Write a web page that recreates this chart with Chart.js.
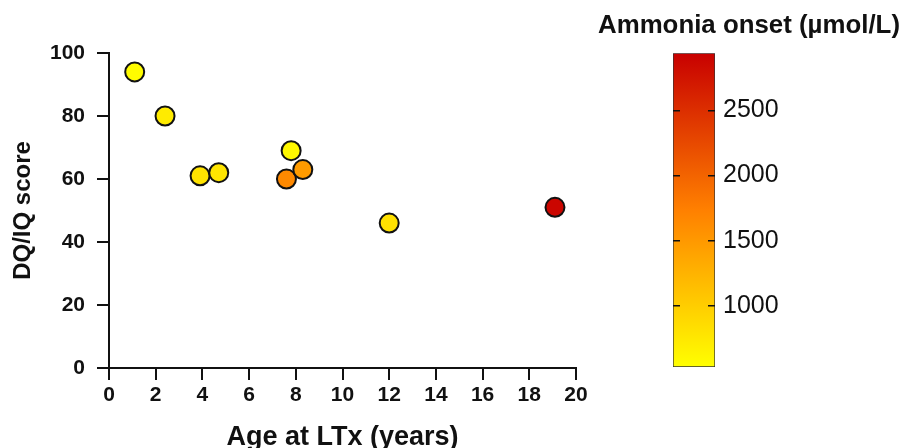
<!DOCTYPE html>
<html>
<head>
<meta charset="utf-8">
<script src="https://cdn.jsdelivr.net/npm/chart.js@4/dist/chart.umd.min.js"></script>
<style>
    html, body { margin: 0; padding: 0; background: #fff; overflow: hidden; }
    #wrap { position: relative; width: 902px; height: 448px; }
    #main { position: absolute; left: 0; top: 0; }
    #cbar { position: absolute; left: 598px; top: 0; }
</style>
</head>
<body>
<div id="wrap">
    <canvas id="main" width="620" height="448"></canvas>
    <canvas id="cbar" width="302" height="448"></canvas>
</div>
<script>
// values
var ageAtLTx = [1.1, 2.4, 3.9, 4.7, 7.8, 7.6, 8.3, 12.0, 19.1];
var dqIqScore = [94, 80, 61, 62, 69, 60, 63, 46, 51];
var ammoniaOnset = [560, 720, 800, 780, 600, 1650, 1480, 810, 2880];

var xTicks = [0, 20, 2];       // min, max, step
var yTicks = [0, 100, 20];
var cbRange = [530, 2940];
var cbTicks = [1000, 1500, 2000, 2500];

var INK = '#111';
Chart.defaults.font.family = '"Liberation Sans", Arial, sans-serif';
Chart.defaults.color = INK;

// yellow -> orange -> dark red
var stops = [[0, [255, 255, 0]], [0.5, [255, 128, 0]], [1, [200, 0, 0]]];

function colorAt(t) {
    t = Math.max(0, Math.min(1, t));
    for (var i = 1; i < stops.length; i++) {
        if (t <= stops[i][0]) {
            var a = stops[i - 1], b = stops[i];
            var f = (t - a[0]) / (b[0] - a[0]);
            var c = a[1].map(function(v, k) { return Math.round(v + (b[1][k] - v) * f); });
            return 'rgb(' + c.join(',') + ')';
        }
    }
    return 'rgb(' + stops[stops.length - 1][1].join(',') + ')';
}

function ammoniaColor(v) { return colorAt((v - cbRange[0]) / (cbRange[1] - cbRange[0])); }

function axisOpts(range, tickFont, title, titleFont, titlePad, fit) {
    return {
        type: 'linear', min: range[0], max: range[1],
        ticks: { stepSize: range[2], font: { size: tickFont, weight: 'bold' }, color: INK, padding: fit.pad },
        grid: { drawOnChartArea: false, tickLength: 12, color: INK, lineWidth: 2 },
        border: { color: INK, width: 2 },
        title: { display: true, text: title, color: INK, font: { size: titleFont, weight: 'bold' }, padding: titlePad },
        afterFit: fit.fn
    };
}

var points = ageAtLTx.map(function(x, i) { return { x: x, y: dqIqScore[i] }; });

new Chart(document.getElementById('main'), {
    type: 'scatter',
    data: { datasets: [{
        data: points,
        backgroundColor: ammoniaOnset.map(ammoniaColor),
        borderColor: INK, borderWidth: 2,
        pointRadius: 9.5, pointHoverRadius: 9.5
    }] },
    options: {
        responsive: false, animation: false,
        layout: { padding: { left: 9, top: 53, right: 44, bottom: 0 } },
        plugins: { legend: { display: false }, tooltip: { enabled: false } },
        scales: {
            x: axisOpts(xTicks, 21, 'Age at LTx (years)', 27, { top: 0, bottom: -6 },
                { pad: 3, fn: function(s) { s.height = 80; } }),
            y: axisOpts(yTicks, 21, 'DQ/IQ score', 24, { top: 0, bottom: 0 },
                { pad: 12, fn: function(s) { s.width = 100; } })
        }
    }
});

// colour bar: one floating bar spanning the ammonia range
new Chart(document.getElementById('cbar'), {
    type: 'bar',
    data: { labels: [''], datasets: [{
        data: [cbRange],
        yAxisID: 'y',
        backgroundColor: function(ctx) {
            var area = ctx.chart.chartArea;
            if (!area) return null;
            var g = ctx.chart.ctx.createLinearGradient(0, area.bottom, 0, area.top);
            stops.forEach(function(s) { g.addColorStop(s[0], colorAt(s[0])); });
            return g;
        },
        borderColor: '#333', borderWidth: 1, borderSkipped: false,
        barPercentage: 1, categoryPercentage: 1
    }] },
    options: {
        responsive: false, animation: false,
        layout: { padding: { left: 0, top: 0, right: 0, bottom: 81 } },
        plugins: {
            legend: { display: false }, tooltip: { enabled: false },
            title: { display: true, text: 'Ammonia onset (µmol/L)', color: INK,
                font: { size: 26, weight: 'bold' }, padding: { top: 10, bottom: 12 } }
        },
        scales: {
            x: { display: false },
            pad: { axis: 'y', position: 'left', display: true, min: 0, max: 1,
                ticks: { display: false }, grid: { display: false },
                border: { display: false }, afterFit: function(s) { s.width = 75; } },
            y: {
                position: 'right', min: cbRange[0], max: cbRange[1],
                afterBuildTicks: function(s) { s.ticks = cbTicks.map(function(v) { return { value: v }; }); },
                ticks: { font: { size: 25 }, color: INK, padding: 8,
                    callback: function(v) { return String(v); } },
                // short marks on both edges of the bar, drawn above it
                grid: { z: 1, drawOnChartArea: true, drawTicks: false, color: INK, lineWidth: 1.5 },
                border: { display: false, dash: [7, 28] },
                afterFit: function(s) { s.width = 185; }
            }
        }
    }
});
</script>
</body>
</html>
